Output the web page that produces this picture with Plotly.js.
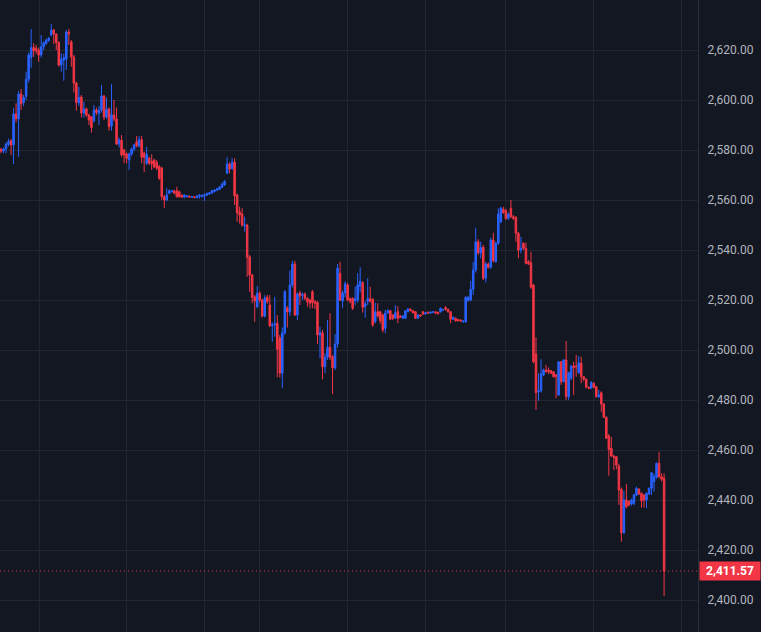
<!DOCTYPE html>
<html>
<head>
<meta charset="utf-8">
<script src="https://cdn.plot.ly/plotly-3.0.1.min.js"></script>
<style>
  html, body { margin: 0; padding: 0; background: #131722; }
  #chart { width: 761px; height: 632px; }
</style>
</head>
<body>
<div id="chart"></div>
<script>
// Intraday candles (one value per bar, oldest first).
const opens = [
  2580.4,2579.6,2580.4,2582.2,2583.7,2582,2594.4,2592.5,2602.4,2599,
  2601.5,2608.3,2617,2621,2620.7,2620,2618,2621.3,2622.7,2623.8,
  2626,2628,2626.4,2623,2614,2616,2616.4,2627.2,2623.2,2617.2,
  2606.8,2598.9,2601.2,2594.8,2596.4,2594,2593.3,2591.7,2596,2594.7,
  2596,2601.6,2593.2,2596.4,2589.6,2594,2592.4,2582.4,2584,2580,
  2578.4,2576,2578.4,2580.4,2583.3,2581.7,2584.1,2578.7,2574.7,2576.7,
  2575.5,2576,2575,2573.3,2572.8,2561.3,2560,2562.7,2563.3,2563.7,
  2563.7,2563.3,2561.9,2561.2,2561.3,2561.5,2561.1,2561.3,2561,2561.5,
  2561.4,2561.6,2562,2562.4,2562.8,2563.4,2564,2564.2,2565,2566,
  2570.7,2574.4,2572.7,2575.1,2562,2555.3,2554.4,2549.6,2550,2537.3,
  2530,2521.3,2517.3,2522.7,2520,2513.6,2521.1,2518,2509.8,2510,
  2510.7,2504.8,2490.7,2506.9,2516.8,2515.3,2526,2534.4,2514,2522.8,
  2521.9,2522.4,2520.7,2520,2523.3,2519.3,2519.1,2506,2506.9,2493.3,
  2497.1,2501.1,2497.3,2492.9,2502.4,2530.7,2519.6,2522.8,2526,2520.5,
  2520.7,2519.7,2520,2525.5,2526.9,2517.3,2519.5,2520.5,2520.3,2511.3,
  2515.3,2515.3,2514,2508.7,2514.9,2515.7,2514,2512.7,2515.3,2513.6,
  2512.7,2512.7,2515.4,2516.3,2515.7,2515.3,2512.7,2514,2515.3,2514.4,
  2515.1,2514.7,2515,2515.3,2515.1,2515.3,2516,2517,2516.3,2515.3,
  2512.3,2512.7,2512.2,2512,2511.3,2511.3,2519.7,2520,2524.3,2532,
  2543.3,2538.9,2541.1,2528.7,2534.4,2533.1,2544,2535.3,2542.7,2551.3,
  2556.3,2555.7,2552.7,2556.7,2553.3,2553.1,2546.7,2540,2542.7,2540.7,
  2535.3,2534.9,2526,2498.4,2483.3,2483.7,2490,2492,2492,2491.7,
  2491.3,2490,2482,2495.3,2487.3,2496,2481.3,2488.7,2493.6,2493.6,
  2490.9,2494.7,2489.3,2488.3,2485.1,2484.7,2486.7,2485.3,2481.3,2482.9,
  2478.4,2473.1,2465.6,2460.7,2457.6,2457.3,2453.6,2444.3,2426.9,2440,
  2439.3,2438.4,2438.7,2442,2444.3,2442.7,2442,2440,2442.4,2444.7,
  2447.3,2449.1,2454.7,2449.3,2448.7
];
const highs = [
  2580.7,2581,2583,2584.5,2584.3,2596.7,2598.7,2603.6,2604.4,2602,
  2611.3,2619,2628.4,2622.7,2622,2621,2626,2623.5,2624.5,2625.2,
  2630.4,2628.5,2626.6,2623.5,2618.7,2618.5,2628,2628.4,2624,2618,
  2607.3,2605.3,2602,2599.3,2597,2594.5,2593.6,2598,2597,2597.6,
  2606,2602,2601,2597,2606.4,2600,2597,2585,2586,2580.5,
  2579,2579,2581,2582.5,2585.6,2585.6,2585.6,2579.3,2581.3,2577.3,
  2578.3,2576.5,2576,2574,2573.3,2562,2564.7,2564.3,2564,2564,
  2565.3,2563.7,2562.2,2562.4,2562,2561.8,2561.6,2561.6,2562,2562.4,
  2562.2,2562.6,2563,2563.2,2564,2564.4,2564.8,2565.6,2567,2568,
  2577.1,2575,2576.7,2576.7,2562.5,2557.3,2556.7,2553.3,2550.5,2538,
  2530.4,2522,2525.6,2523.5,2520.5,2521.9,2522,2522,2511.1,2521.3,
  2514,2506,2509,2524,2517.6,2531.8,2535.7,2535.7,2523,2523.7,
  2523,2523,2521,2520.5,2524,2520,2519.5,2509.3,2508,2498.7,
  2512,2514.7,2498,2506.4,2534.4,2535.3,2523.8,2527.5,2526.8,2521,
  2521,2525.3,2530.7,2533.1,2527.5,2519.5,2528.7,2525.3,2520.7,2518.9,
  2518.7,2515.7,2514.5,2516,2516.3,2516,2514.3,2518,2517.6,2514,
  2514,2516,2516.8,2516.8,2516,2515.6,2514.3,2514.2,2515.6,2515.2,
  2515.4,2515.4,2515.5,2515.5,2515.3,2517,2516.4,2517.5,2516.5,2515.6,
  2513.4,2513,2512.4,2512.2,2511.9,2521.5,2521.5,2527.7,2535.3,2548.9,
  2544.3,2543.3,2542,2535.3,2535,2545,2546.9,2543.3,2556.7,2557.3,
  2557.3,2556.5,2555,2560,2554,2553.5,2547.3,2545.3,2543,2543,
  2536,2539.3,2526.5,2505,2490.7,2496.3,2492.5,2494,2493,2492,
  2491.5,2490.4,2495.6,2495.6,2496.3,2503.6,2491.3,2494,2495.3,2498,
  2497.6,2497.3,2489.6,2488.6,2485.5,2487.5,2487,2485.6,2484,2483.5,
  2478.7,2473.5,2466.4,2465.3,2458,2457.6,2454.5,2445,2443.7,2446.4,
  2440,2440.5,2442.5,2445.3,2444.7,2443,2442.3,2443,2445,2451.3,
  2450.5,2455,2459.3,2450.7,2450.7
];
const lows = [
  2578.7,2578.7,2578.7,2581.5,2578,2574.4,2591,2577.3,2596,2597.5,
  2600,2607,2612.9,2617.3,2618.5,2615.3,2617,2620,2622,2623.3,
  2625.5,2622.4,2620,2613.3,2611.3,2607.7,2612,2622,2613.3,2603,
  2595.7,2597.6,2593,2593,2593.3,2590,2586.9,2591,2594,2590,
  2595,2592,2592.5,2587.7,2587.7,2591.5,2582,2581,2577.3,2574.7,
  2574.7,2572,2577.5,2579.5,2581,2581,2574.7,2571.1,2574,2574,
  2572,2572.7,2572,2568,2560,2556.7,2559.5,2562.3,2563,2562.3,
  2561,2561,2560.8,2560.7,2561,2560.8,2560.9,2560.7,2560.5,2560.5,
  2561,2559.6,2561.6,2562,2562.5,2563,2563.5,2564,2564.8,2565.7,
  2570.5,2570.7,2572,2558,2551.3,2550.6,2549.3,2547.3,2529.3,2523.3,
  2518.7,2511.3,2516.7,2519,2513,2513,2518.5,2509.3,2503.3,2505.3,
  2489.1,2489,2484.8,2506,2509,2513.6,2525,2513.6,2512,2518,
  2520,2520,2517.3,2516.7,2516.7,2516.4,2502.4,2496.7,2488.3,2490.7,
  2496,2496,2482.4,2492,2501,2519.6,2516.7,2521,2519.6,2518.7,
  2516,2518,2519,2523,2515,2512.9,2518,2519,2509.3,2510.7,
  2513,2510.5,2507,2506.7,2514.5,2512,2512,2512.5,2510.7,2512.8,
  2512.5,2512.4,2515,2515.5,2514.6,2512.4,2512.4,2513.3,2514,2514.2,
  2514.5,2514.5,2514.8,2514.3,2514.2,2515,2515.8,2515.8,2515,2510.7,
  2512,2511.4,2511.4,2511.3,2510.9,2510.9,2519.4,2519.5,2522,2531,
  2538,2536.7,2528,2527,2532.5,2532.5,2535,2535,2542,2550.7,
  2554.5,2552,2552,2552.7,2552,2543.3,2536.7,2538.7,2540,2534.3,
  2534,2524.5,2494.7,2476,2479.7,2483,2489.5,2491,2490.4,2490.3,
  2489,2480.7,2481.7,2486,2487,2480,2480,2488,2482,2489.3,
  2490.5,2486.7,2487.5,2484.7,2484.3,2484.5,2484.7,2481,2480.8,2475.3,
  2472.8,2464.4,2449.7,2457.3,2452,2452.3,2438,2423.3,2426.5,2436.7,
  2437.5,2437.8,2438,2441.5,2442,2437,2437,2436.7,2442,2442,
  2443.3,2448.5,2448.7,2447.5,2401.6
];
const closes = [
  2579.5,2580.4,2582.4,2583.5,2582,2594.4,2592.5,2602.4,2598.5,2601,
  2608.3,2618,2621,2619.7,2619.7,2618,2621.3,2622.9,2624,2624.7,
  2628,2626.4,2623,2614,2616.3,2616.9,2627.2,2626.4,2617.2,2606.8,
  2598.9,2601,2594.8,2596.4,2594,2592,2589,2596,2595,2596,
  2601.6,2593.2,2596.3,2589.3,2594.1,2592.4,2582.4,2584,2578,2578,
  2576.7,2578.4,2580.4,2582,2581.7,2584.1,2577.1,2577.1,2578.3,2574.7,
  2574.5,2573.3,2572.7,2568.7,2561.3,2560,2562,2563.7,2563.6,2562.7,
  2561.3,2561.3,2561.1,2561.9,2561.7,2561.2,2561.3,2561,2561.5,2561.9,
  2561.8,2562,2562.5,2562.9,2563.8,2564,2564.4,2565.2,2566.3,2567.4,
  2574.4,2572.4,2575.1,2561.7,2554.9,2554,2550,2550,2537.1,2530,
  2521.1,2519.6,2522.7,2520,2513.6,2520.8,2519.3,2509.6,2510.2,2510.4,
  2500.3,2490.8,2506.9,2523.3,2515.2,2526,2534.4,2514,2522.4,2521.6,
  2522.3,2520.7,2519.3,2518.7,2518.9,2518.7,2506,2506.9,2493.3,2497,
  2501.1,2497.1,2492.9,2502.4,2532.7,2520,2522.8,2526.4,2520,2519.5,
  2516.7,2520.5,2526,2527.5,2517.1,2518.5,2520.5,2519.5,2510,2515.3,
  2513.6,2511.7,2508,2514.7,2515.7,2512.3,2512.7,2514.9,2512.7,2513.1,
  2513.6,2515.7,2516.3,2515.7,2514.9,2512.7,2514,2513.6,2514.4,2514.9,
  2514.8,2515.2,2515.3,2514.8,2514.5,2516.7,2516.1,2516.2,2515.3,2512.3,
  2513.1,2511.7,2511.7,2511.6,2511.6,2521.1,2521.1,2524.3,2532,2543.3,
  2538.9,2541,2528.7,2534.4,2533.1,2544,2535.7,2542.7,2554.4,2556.7,
  2555,2552.7,2554.4,2553.3,2552.7,2546.7,2540,2540.7,2540.7,2534.7,
  2534.4,2525.1,2495.3,2482.9,2483.7,2490.4,2492,2491.3,2491.3,2490.7,
  2489.3,2489.3,2495.3,2487.3,2496,2481.3,2490.9,2493.6,2493,2493.3,
  2494.9,2489.3,2488.3,2485.1,2484.7,2487,2485.1,2481.3,2482,2478.4,
  2473.1,2464.7,2460.3,2457.6,2457,2454,2444,2426.9,2440,2437.3,
  2438,2440,2442,2444.7,2442.4,2439.7,2440,2442.7,2444.7,2450.9,
  2449.3,2454.7,2449.3,2448.3,2411.57
];
// bar positions of the vertical (session) grid lines
const gridBars = [15.5, 50, 81, 103, 138, 169, 201, 236, 271];
const priceTicks = [2400, 2420, 2440, 2460, 2480, 2500, 2520, 2540, 2560, 2580, 2600, 2620, 2640];

const UP = "#2962ff", DOWN = "#f23645", GRID = "#222631", BG = "#131722";
const bars = closes.map((_, i) => i);
const last = closes[closes.length - 1];

Plotly.newPlot("chart", [{
  type: "candlestick",
  x: bars, open: opens, high: highs, low: lows, close: closes,
  increasing: { line: { color: UP, width: 1 }, fillcolor: UP },
  decreasing: { line: { color: DOWN, width: 1 }, fillcolor: DOWN },
  whiskerwidth: 0,
  hoverinfo: "skip",
}], {
  width: 761, height: 632,
  margin: { l: 0, r: 63, t: 0, b: 0 },
  paper_bgcolor: BG, plot_bgcolor: BG,
  showlegend: false,
  boxgap: 0.4, boxgroupgap: 0,
  font: { family: "Roboto, 'Noto Sans', sans-serif", size: 12, color: "#b2b5be" },
  xaxis: {
    type: "linear", range: [-0.4, 277.5],
    tickvals: gridBars, showticklabels: false, ticks: "",
    showgrid: true, gridcolor: GRID, gridwidth: 1, zeroline: false,
    rangeslider: { visible: false }, fixedrange: true,
  },
  yaxis: {
    side: "right", range: [2387.2, 2640],
    tickvals: priceTicks, tickformat: ",.2f", ticks: "",
    ticklabelstandoff: 6,
    showgrid: true, gridcolor: GRID, zeroline: false,
    showline: true, linecolor: "#2a2e39", linewidth: 1,
    tickfont: { family: "Roboto, 'Noto Sans', sans-serif", size: 12, color: "#b2b5be" },
    fixedrange: true,
  },
  shapes: [{
    type: "line", xref: "paper", x0: 0, x1: 1, yref: "y", y0: last, y1: last,
    line: { color: DOWN, width: 1, dash: "1px,3px" },
  }],
  annotations: [{
    xref: "paper", x: 1, xanchor: "left", xshift: 1,
    yref: "y", y: last, yanchor: "middle",
    text: "<b>" + last.toLocaleString("en-US", { minimumFractionDigits: 2 }) + "</b>",
    showarrow: false, bgcolor: DOWN, borderpad: 2, width: 56, height: 14, align: "center",
    font: { family: "Roboto, 'Noto Sans', sans-serif", size: 12, color: "#ffffff" },
  }],
}, { staticPlot: true, displayModeBar: false });
</script>
</body>
</html>
